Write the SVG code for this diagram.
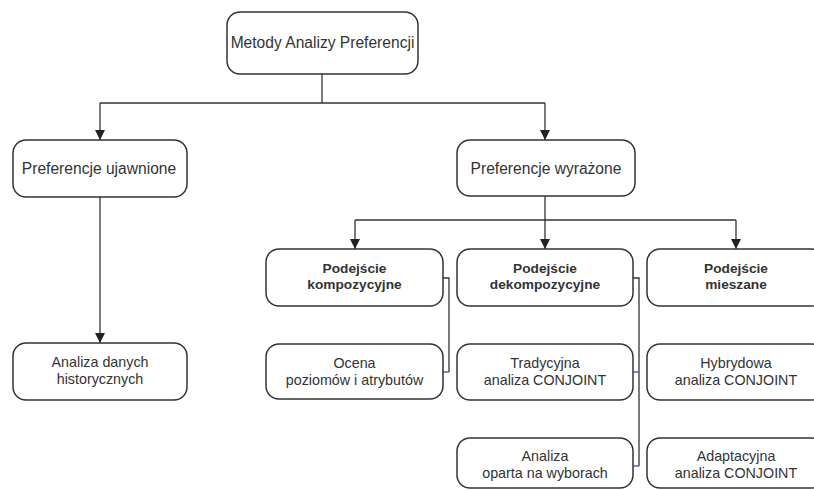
<svg xmlns="http://www.w3.org/2000/svg" width="814" height="490" viewBox="0 0 814 490">
  <style>
    .box { fill: #ffffff; stroke: #333333; stroke-width: 1.5; }
    .t { font-family: "Liberation Sans", Arial, sans-serif; fill: #333333; text-anchor: middle; }
    .t15 { font-size: 15.6px; }
    .t14 { font-size: 14.3px; }
    .tb { font-size: 13.7px; font-weight: bold; }
    .wire { fill: none; stroke: #333333; stroke-width: 1.3; }
    .link { fill: none; stroke: #4a4aa8; stroke-width: 1.3; }
  </style>
  <defs>
    <marker id="arrow" viewBox="0 0 10 10" refX="10" refY="5" markerWidth="10" markerHeight="10" markerUnits="userSpaceOnUse" orient="auto">
      <path d="M0,0 L10,5 L0,10 Z" fill="#222222"/>
    </marker>
  </defs>

  <g id="connectors">
    <!-- root to the two preference kinds -->
    <path class="wire" d="M322,74 V103"/>
    <path class="wire" d="M100,103 H545"/>
    <path class="wire" d="M100,103 V140" marker-end="url(#arrow)"/>
    <path class="wire" d="M545,103 V140" marker-end="url(#arrow)"/>
    <!-- revealed preferences to historical data -->
    <path class="wire" d="M100,197 V343" marker-end="url(#arrow)"/>
    <!-- stated preferences to the three approaches -->
    <path class="wire" d="M545,196 V220"/>
    <path class="wire" d="M355,220 H736"/>
    <path class="wire" d="M355,220 V249" marker-end="url(#arrow)"/>
    <path class="wire" d="M545,220 V249" marker-end="url(#arrow)"/>
    <path class="wire" d="M736,220 V249" marker-end="url(#arrow)"/>
    <!-- compositional approach bracket -->
    <path class="wire" d="M443,278 H449 V372"/>
    <path class="link" d="M449,372 H443"/>
    <!-- decompositional approach bracket -->
    <path class="wire" d="M633,278 H639 V466"/>
    <path class="link" d="M639,372 H633"/>
    <path class="link" d="M639,466 H633"/>
  </g>

  <g id="root">
    <rect class="box" x="227" y="12" width="191" height="62" rx="13"/>
    <text class="t t15" x="322.5" y="48">Metody Analizy Preferencji</text>
  </g>

  <g id="revealed">
    <rect class="box" x="13" y="140" width="174" height="57" rx="13"/>
    <text class="t t15" x="99" y="174">Preferencje ujawnione</text>
  </g>

  <g id="stated">
    <rect class="box" x="457" y="140" width="178" height="56" rx="13"/>
    <text class="t t15" x="546" y="174">Preferencje wyrażone</text>
  </g>

  <g id="historical">
    <rect class="box" x="13" y="343" width="174" height="57" rx="13"/>
    <text class="t t14" x="100" y="367">Analiza danych</text>
    <text class="t t14" x="100" y="384">historycznych</text>
  </g>

  <g id="compositional">
    <rect class="box" x="266" y="249" width="177" height="57" rx="13"/>
    <text class="t tb" x="354.5" y="273">Podejście</text>
    <text class="t tb" x="354.5" y="289">kompozycyjne</text>
  </g>

  <g id="decompositional">
    <rect class="box" x="457" y="249" width="176" height="57" rx="13"/>
    <text class="t tb" x="545" y="273">Podejście</text>
    <text class="t tb" x="545" y="289">dekompozycyjne</text>
  </g>

  <g id="mixed">
    <rect class="box" x="647" y="249" width="178" height="57" rx="13"/>
    <text class="t tb" x="736" y="273">Podejście</text>
    <text class="t tb" x="736" y="289">mieszane</text>
  </g>

  <g id="levels-attributes">
    <rect class="box" x="266" y="344" width="177" height="55" rx="13"/>
    <text class="t t14" x="354.5" y="368">Ocena</text>
    <text class="t t14" x="354.5" y="385">poziomów i atrybutów</text>
  </g>

  <g id="traditional-conjoint">
    <rect class="box" x="457" y="344" width="176" height="56" rx="13"/>
    <text class="t t14" x="545" y="368">Tradycyjna</text>
    <text class="t t14" x="545" y="385">analiza CONJOINT</text>
  </g>

  <g id="choice-based">
    <rect class="box" x="457" y="438" width="176" height="50" rx="13"/>
    <text class="t t14" x="545" y="461">Analiza</text>
    <text class="t t14" x="545" y="478">oparta na wyborach</text>
  </g>

  <g id="hybrid-conjoint">
    <rect class="box" x="647" y="344" width="178" height="56" rx="13"/>
    <text class="t t14" x="736" y="368">Hybrydowa</text>
    <text class="t t14" x="736" y="385">analiza CONJOINT</text>
  </g>

  <g id="adaptive-conjoint">
    <rect class="box" x="647" y="438" width="178" height="50" rx="13"/>
    <text class="t t14" x="736" y="461">Adaptacyjna</text>
    <text class="t t14" x="736" y="478">analiza CONJOINT</text>
  </g>
</svg>
